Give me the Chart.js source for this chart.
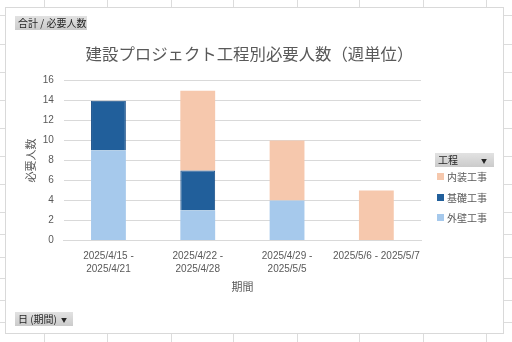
<!DOCTYPE html>
<html lang="ja">
<head>
<meta charset="utf-8">
<script src="https://cdn.jsdelivr.net/npm/chart.js@4.4.1/dist/chart.umd.min.js"></script>
<style>
  html, body { margin: 0; padding: 0; }
  body {
    width: 512px; height: 342px; position: relative; overflow: hidden; background: #fff;
    font-family: 'Noto Sans CJK JP', 'Liberation Sans', sans-serif;
  }
  .sheet-line { position: absolute; background: #dcdcdc; }
  #frame {
    position: absolute; left: 5px; top: 7px; width: 497px; height: 325px;
    border: 1px solid #d9d9d9; background: #fff;
  }
  #myChart { position: absolute; left: 0; top: 0; z-index: 1; }
  .field-btn {
    position: absolute; z-index: 2; height: 14px; line-height: 14px; box-sizing: border-box;
    padding: 0 3px; font-size: 10px; color: #262626; white-space: nowrap;
    background: linear-gradient(#e2e2e2, #cbcbcb);
  }
  .field-btn .arrow { font-size: 6px; vertical-align: 1px; margin-left: 4px; }
  #legend { position: absolute; left: 437px; top: 166px; z-index: 2; }
  .legend-row { height: 20.7px; display: flex; align-items: center; font-size: 10px; color: #595959; }
  .legend-row i { width: 7px; height: 7px; margin-right: 3px; display: inline-block; }
</style>
</head>
<body>
<div id="sheet"></div>
<div id="frame"></div>
<canvas id="myChart" width="512" height="342"></canvas>
<div class="field-btn" style="left:15px; top:16px; width:72px;">合計 / 必要人数</div>
<div class="field-btn" style="left:435px; top:153px; width:59px;">工程<span class="arrow" style="margin-left:23px;">▼</span></div>
<div class="field-btn" style="left:15px; top:312px; width:58px;">日 (期間)<span class="arrow">▼</span></div>
<div id="legend"></div>
<script>
// weekly periods and headcount per work type
const periods = [
  ['2025/4/15 -', '2025/4/21'],
  ['2025/4/22 -', '2025/4/28'],
  ['2025/4/29 -', '2025/5/5'],
  '2025/5/6 - 2025/5/7'
];
const exteriorWork = [9, 3, 4, 0];    // 外壁工事
const foundationWork = [5, 4, 0, 0];  // 基礎工事
const interiorWork = [0, 8, 6, 5];    // 内装工事
const yTicks = { min: 0, max: 16, step: 2 };

// worksheet cell borders behind the chart
const colLines = [44, 107, 171, 233, 297, 359, 423, 486];
const rowLines = [15, 44, 72, 100, 128, 156, 184, 212, 234, 257, 278, 300, 322];
const sheet = document.querySelector('#sheet');
colLines.forEach(x => {
  const d = document.createElement('div');
  d.className = 'sheet-line';
  d.style.cssText = `left:${x}px;top:0;width:1px;height:342px`;
  sheet.appendChild(d);
});
rowLines.forEach(y => {
  const d = document.createElement('div');
  d.className = 'sheet-line';
  d.style.cssText = `left:0;top:${y}px;width:512px;height:1px`;
  sheet.appendChild(d);
});

const textColor = '#595959';
const gridColor = '#d9d9d9';
Chart.defaults.font.family = "'Liberation Sans', 'Noto Sans CJK JP', sans-serif";

const ctx = document.querySelector('#myChart');
const myChart = new Chart(ctx, {
  type: 'bar',
  data: {
    labels: periods,
    datasets: [{
      label: '外壁工事',
      data: exteriorWork,
      backgroundColor: '#a6c9ec',
      borderWidth: 0
    },
    {
      label: '基礎工事',
      data: foundationWork,
      backgroundColor: '#215f9b',
      borderColor: '#1a4f88',
      borderWidth: 1
    },
    {
      label: '内装工事',
      data: interiorWork,
      backgroundColor: '#f6c8ad',
      borderWidth: 0
    }]
  },
  options: {
    responsive: false,
    animation: false,
    layout: {
      padding: { left: 20, right: 33, top: 0, bottom: 40 }
    },
    datasets: {
      bar: { categoryPercentage: 1, barPercentage: 0.39 }
    },
    plugins: {
      legend: { display: false },
      tooltip: { enabled: false },
      title: {
        display: true,
        text: '建設プロジェクト工程別必要人数（週単位）',
        color: textColor,
        font: { size: 16.4, weight: 'normal', family: "'Noto Sans CJK JP'", lineHeight: 1.2 },
        padding: { top: 43.8, bottom: 17.2 }
      }
    },
    scales: {
      x: {
        stacked: true,
        grid: { display: false },
        border: { color: gridColor },
        ticks: {
          color: textColor,
          padding: 1,
          maxRotation: 0,
          autoSkip: false,
          font: { size: 10, lineHeight: 1.3 }
        },
        title: {
          display: true,
          text: '期間',
          color: textColor,
          font: { size: 11, family: "'Noto Sans CJK JP'" },
          padding: { top: 0, bottom: 8.4 }
        },
        afterFit(scale) { scale.height = 61.5; }
      },
      y: {
        stacked: true,
        min: yTicks.min,
        max: yTicks.max,
        ticks: {
          stepSize: yTicks.step,
          color: textColor,
          padding: 10,
          font: { size: 10 }
        },
        grid: { color: gridColor, drawTicks: false },
        border: { display: false },
        title: {
          display: true,
          text: '必要人数',
          color: textColor,
          font: { size: 11, family: "'Noto Sans CJK JP'" },
          padding: { top: 4.4, bottom: 0 }
        },
        afterFit(scale) { scale.width = 43.8; }
      },
      // empty right-hand axis that keeps room for the field list legend
      legendSpace: {
        axis: 'y',
        position: 'right',
        grid: { display: false },
        border: { display: false },
        ticks: { display: false },
        afterFit(scale) { scale.width = 58; }
      }
    }
  }
});

// legend beside the plot, top entry is the top of the stack
const legend = document.querySelector('#legend');
myChart.data.datasets.slice().reverse().forEach(ds => {
  const row = document.createElement('div');
  row.className = 'legend-row';
  const box = document.createElement('i');
  box.style.background = ds.backgroundColor;
  row.appendChild(box);
  row.appendChild(document.createTextNode(ds.label));
  legend.appendChild(row);
});
</script>
</body>
</html>
